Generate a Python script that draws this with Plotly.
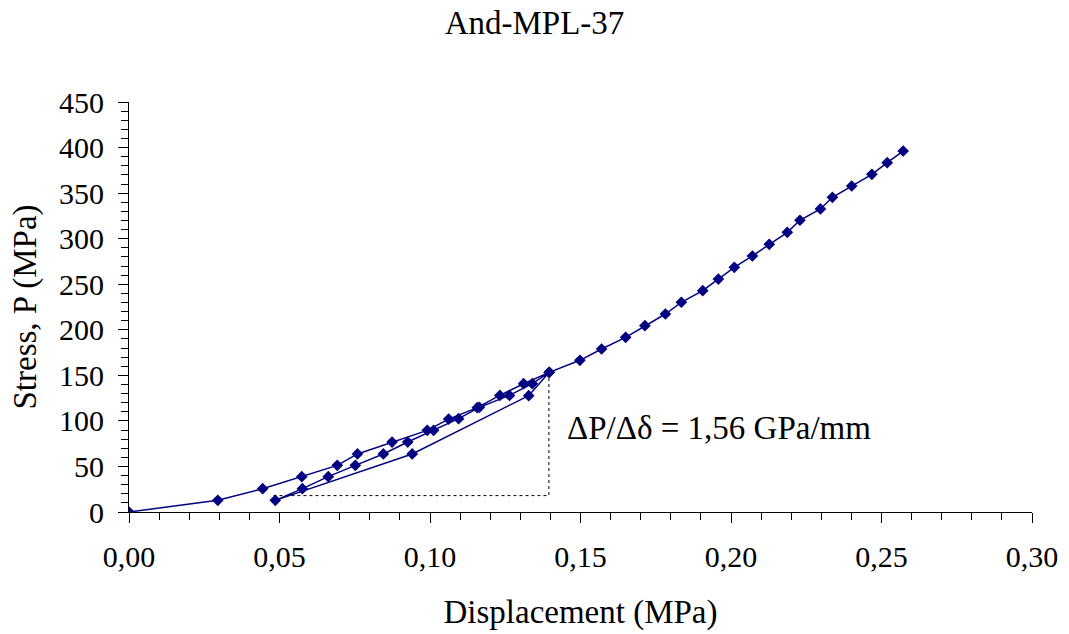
import plotly.graph_objects as go

# Displacement (x) and stress (y) readings, in test order:
# initial loading, unloading, reloading, then loading to the end of the test.
displacement = [
    0.0000, 0.0295, 0.0444, 0.0574, 0.0692, 0.0759, 0.0874, 0.0991, 0.1062,
    0.1157, 0.1232, 0.1311, 0.1396,
    0.1328, 0.0941, 0.0486,
    0.0576, 0.0662, 0.0752, 0.0845, 0.0926, 0.1012, 0.1095, 0.1164, 0.1264,
    0.1340, 0.1396,
    0.1498, 0.1570, 0.1650, 0.1714, 0.1782, 0.1835, 0.1906, 0.1958, 0.2011,
    0.2071, 0.2127, 0.2187, 0.2229, 0.2297, 0.2337, 0.2401, 0.2468, 0.2519,
    0.2572,
]
stress = [
    0.0, 12.8, 25.6, 38.8, 51.2, 63.7, 76.8, 89.6, 102.0,
    114.5, 128.0, 140.8, 153.3,
    127.7, 63.7, 12.8,
    25.6, 38.8, 51.2, 63.7, 76.8, 89.6, 102.4, 114.9, 128.0,
    140.8, 153.3,
    166.5, 178.9, 191.7, 204.5, 217.3, 230.2, 242.9, 255.7, 268.5,
    281.0, 293.8, 307.0, 320.2, 332.6, 345.4, 357.8, 370.6, 383.4,
    396.2,
]

# Slope triangle used for the reloading stiffness
slope_x = [0.0480, 0.1395, 0.1395]
slope_y = [18.0, 18.0, 153.3]
slope_label = "ΔP/Δδ = 1,56 GPa/mm"

x_ticks = [0.00, 0.05, 0.10, 0.15, 0.20, 0.25, 0.30]
x_tick_text = ["0,00", "0,05", "0,10", "0,15", "0,20", "0,25", "0,30"]
y_ticks = [0, 50, 100, 150, 200, 250, 300, 350, 400, 450]

FONT = "Liberation Serif"
NAVY = "#000080"

fig = go.Figure()

fig.add_trace(go.Scatter(
    x=slope_x, y=slope_y, mode="lines",
    line=dict(color="black", width=1, dash="dot"),
    hoverinfo="skip", showlegend=False,
))

fig.add_trace(go.Scatter(
    x=displacement, y=stress, mode="lines+markers",
    line=dict(color=NAVY, width=1.5),
    marker=dict(symbol="diamond", size=9, color=NAVY),
    showlegend=False,
))

fig.add_annotation(
    x=0.1448, y=92, xref="x", yref="y", text=slope_label,
    showarrow=False, xanchor="left", yanchor="middle",
    font=dict(family=FONT, size=33, color="black"),
)

fig.update_layout(
    width=1069, height=634,
    margin=dict(l=129, r=37, t=102, b=122),
    paper_bgcolor="white", plot_bgcolor="white",
    font=dict(family=FONT, color="black"),
    title=dict(
        text="And-MPL-37", x=0.5, xanchor="center", xref="container",
        y=1 - 22 / 634, yanchor="middle", yref="container",
        font=dict(family=FONT, size=33, color="black"),
    ),
)

fig.update_xaxes(
    range=[0, 0.30], tickvals=x_ticks, ticktext=x_tick_text,
    showgrid=False, zeroline=False,
    showline=True, linecolor="black", linewidth=1,
    ticks="outside", ticklen=10, tickcolor="black", tickwidth=1,
    minor=dict(dtick=0.01, ticks="outside", ticklen=7,
               tickcolor="black", tickwidth=1, showgrid=False),
    ticklabelstandoff=8,
    tickfont=dict(family=FONT, size=30, color="black"),
    title=dict(text="Displacement (MPa)", standoff=27,
               font=dict(family=FONT, size=33, color="black")),
)

fig.update_yaxes(
    range=[0, 450], tickvals=y_ticks,
    showgrid=False, zeroline=False,
    showline=True, linecolor="black", linewidth=1,
    ticks="outside", ticklen=10, tickcolor="black", tickwidth=1,
    minor=dict(dtick=10, ticks="outside", ticklen=7,
               tickcolor="black", tickwidth=1, showgrid=False),
    ticklabelstandoff=8,
    tickfont=dict(family=FONT, size=30, color="black"),
    title=dict(text="Stress, P (MPa)", standoff=12,
               font=dict(family=FONT, size=33, color="black")),
)

fig.write_html("out.html")
